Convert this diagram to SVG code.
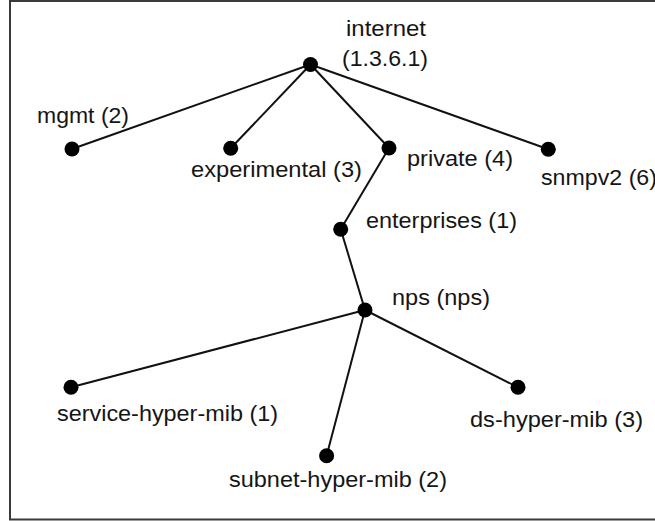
<svg xmlns="http://www.w3.org/2000/svg" width="655" height="521" viewBox="0 0 655 521">
<style>
.bg{fill:#ffffff}
.frame{fill:none;stroke:#3a3a3a;stroke-width:2}
.edge{stroke:#111111;stroke-width:2;fill:none}
.dot{fill:#000000}
.lbl{font-family:"Liberation Sans",Arial,sans-serif;font-size:22px;fill:#151515}
</style>
<rect class="bg" x="0" y="0" width="655" height="521"/>
<path class="frame" d="M 700 1 H 10 V 519.5 H 700"/>
<g id="connectors">
<line class="edge" x1="310.5" y1="64.5" x2="72" y2="149"/>
<line class="edge" x1="310.5" y1="64.5" x2="230.7" y2="148.3"/>
<line class="edge" x1="310.5" y1="64.5" x2="389" y2="148"/>
<line class="edge" x1="310.5" y1="64.5" x2="548.3" y2="149.3"/>
<line class="edge" x1="389" y1="148" x2="340.7" y2="229.3"/>
<line class="edge" x1="340.7" y1="229.3" x2="365" y2="310"/>
<line class="edge" x1="365" y1="310" x2="71" y2="387.3"/>
<line class="edge" x1="365" y1="310" x2="326.6" y2="455.7"/>
<line class="edge" x1="365" y1="310" x2="518" y2="387.3"/>
</g>
<g id="internet">
<circle class="dot" cx="310.5" cy="64.5" r="7.5"/>
<text class="lbl" x="346" y="36" textLength="80" lengthAdjust="spacingAndGlyphs">internet</text>
<text class="lbl" x="342" y="66" textLength="86" lengthAdjust="spacingAndGlyphs">(1.3.6.1)</text>
</g>
<g id="mgmt">
<circle class="dot" cx="72" cy="149" r="7.5"/>
<text class="lbl" x="37" y="123" textLength="92" lengthAdjust="spacingAndGlyphs">mgmt (2)</text>
</g>
<g id="experimental">
<circle class="dot" cx="230.7" cy="148.3" r="7.5"/>
<text class="lbl" x="191" y="177" textLength="171" lengthAdjust="spacingAndGlyphs">experimental (3)</text>
</g>
<g id="private">
<circle class="dot" cx="389" cy="148" r="7.5"/>
<text class="lbl" x="407" y="166" textLength="106" lengthAdjust="spacingAndGlyphs">private (4)</text>
</g>
<g id="snmpv2">
<circle class="dot" cx="548.3" cy="149.3" r="7.5"/>
<text class="lbl" x="541" y="185" textLength="116" lengthAdjust="spacingAndGlyphs">snmpv2 (6)</text>
</g>
<g id="enterprises">
<circle class="dot" cx="340.7" cy="229.3" r="7.5"/>
<text class="lbl" x="366" y="228" textLength="151" lengthAdjust="spacingAndGlyphs">enterprises (1)</text>
</g>
<g id="nps">
<circle class="dot" cx="365" cy="310" r="7.5"/>
<text class="lbl" x="392" y="305" textLength="98" lengthAdjust="spacingAndGlyphs">nps (nps)</text>
</g>
<g id="service-hyper-mib">
<circle class="dot" cx="71" cy="387.3" r="7.5"/>
<text class="lbl" x="57" y="421" textLength="221" lengthAdjust="spacingAndGlyphs">service-hyper-mib (1)</text>
</g>
<g id="subnet-hyper-mib">
<circle class="dot" cx="326.6" cy="455.7" r="7.5"/>
<text class="lbl" x="229" y="487" textLength="218" lengthAdjust="spacingAndGlyphs">subnet-hyper-mib (2)</text>
</g>
<g id="ds-hyper-mib">
<circle class="dot" cx="518" cy="387.3" r="7.5"/>
<text class="lbl" x="470" y="427" textLength="173" lengthAdjust="spacingAndGlyphs">ds-hyper-mib (3)</text>
</g>
</svg>
